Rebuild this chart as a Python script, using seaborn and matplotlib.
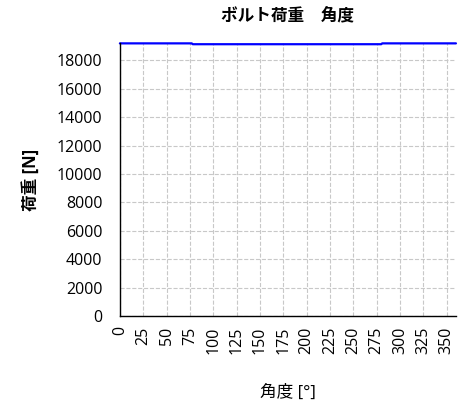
import numpy as np
import pandas as pd
import matplotlib
matplotlib.use("Agg")
import matplotlib.pyplot as plt
import seaborn as sns

# bolt load vs angle
angle = [0, 30, 60, 77, 78, 120, 180, 240, 280, 281, 320, 360]
load = [19200, 19200, 19200, 19200, 19140, 19140, 19140, 19140, 19140, 19200, 19200, 19200]
xticks = list(range(0, 351, 25))
yticks = list(range(0, 18001, 2000))

sns.set_style("white", {"text.color": "black", "axes.labelcolor": "black",
                        "xtick.color": "black", "ytick.color": "black"})
plt.rcParams["font.family"] = ["Open Sans", "Noto Sans CJK JP", "DejaVu Sans"]

df = pd.DataFrame({"angle": angle, "load": load})

fig = plt.figure(figsize=(4.72, 4.13), dpi=100)
ax = fig.add_axes([0.254, 0.235, 0.712, 0.66])
sns.lineplot(data=df, x="angle", y="load", ax=ax, color="#0000ff", linewidth=1.6, clip_on=False)

ax.set_xlim(0, 360)
ax.set_ylim(0, max(load))
ax.set_xticks(xticks)
ax.set_yticks(yticks)
ax.tick_params(axis="x", labelrotation=90, labelsize=11.5, direction="inout", length=7, width=0.8, pad=4,
               colors="black")
ax.tick_params(axis="y", labelsize=11.5, direction="inout", length=7, width=0.8, pad=9, colors="black")
ax.grid(True, linestyle="--", color="#c8c8c8", linewidth=0.8)
for s in ["top", "right"]:
    ax.spines[s].set_visible(False)
for s in ["left", "bottom"]:
    ax.spines[s].set_color("black")
    ax.spines[s].set_linewidth(1.0)

ax.set_title("ボルト荷重　角度", fontsize=12, fontweight="bold", pad=16, color="black")
ax.set_xlabel("角度 [°]", fontsize=12, labelpad=22, color="black")
ax.set_ylabel("荷重 [N]", fontsize=12, fontweight="bold", labelpad=12, color="black")

fig.savefig("out.png", dpi=100)
